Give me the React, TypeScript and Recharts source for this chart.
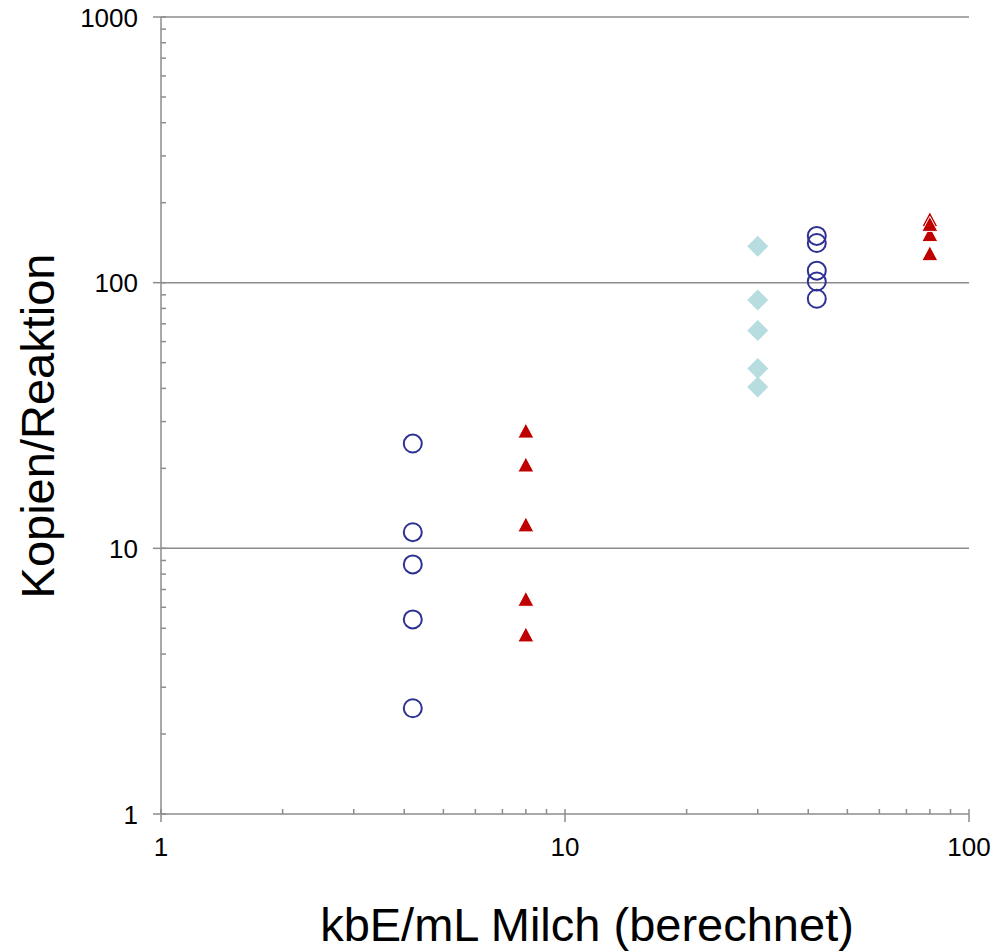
import React from 'react';
import { ScatterChart, Scatter, XAxis, YAxis, ReferenceLine } from 'recharts';

// x positions (kbE/mL) of each group and the measured copies per reaction
const circlesLowX = 4.2;
const circlesLow = [24.8, 11.5, 8.7, 5.4, 2.5];
const trianglesLowX = 8;
const trianglesLow = [27.5, 20.5, 12.2, 6.4, 4.7];
const diamondsX = 30;
const diamonds = [137, 86, 66, 47.5, 40.5];
const circlesHighX = 42;
const circlesHigh = [150, 141, 111, 101, 87];
const trianglesHighX = 80;
const trianglesHigh = [128, 172, 151, 165];

const xTicks = [1, 2, 3, 4, 5, 6, 7, 8, 9, 10, 20, 30, 40, 50, 60, 70, 80, 90, 100];
const xMajor = [1, 10, 100];
const yTicks = [1, 2, 3, 4, 5, 6, 7, 8, 9, 10, 20, 30, 40, 50, 60, 70, 80, 90, 100, 200, 300, 400, 500, 600, 700, 800, 900, 1000];
const yMajor = [1, 10, 100, 1000];
const gridLines = [10, 100, 1000];

const toPoints = (x: number, ys: number[]) => ys.map((y) => ({ x, y }));

const AXIS = '#8c8c8c';
const FONT = '"Liberation Sans", Arial, sans-serif';

const XTick = (props: any) => {
  const { x, y, payload } = props;
  const major = xMajor.includes(payload.value);
  return (
    <g>
      <line x1={x} x2={x} y1={y - 5} y2={major ? y + 8 : y} stroke={AXIS} strokeWidth={1.5} />
      {major && (
        <text x={x} y={y + 42} textAnchor="middle" fontSize={26} fill="#000" fontFamily={FONT}>
          {payload.value}
        </text>
      )}
    </g>
  );
};

const YTick = (props: any) => {
  const { x, y, payload } = props;
  const major = yMajor.includes(payload.value);
  return (
    <g>
      <line x1={major ? x - 8 : x} x2={x + 5} y1={y} y2={y} stroke={AXIS} strokeWidth={1.5} />
      {major && (
        <text x={x - 23} y={y + 9.5} textAnchor="end" fontSize={26} fill="#000" fontFamily={FONT}>
          {payload.value}
        </text>
      )}
    </g>
  );
};

const circleShape = (p: any) => (
  <circle cx={p.cx} cy={p.cy} r={9} fill="none" stroke="#2e3192" strokeWidth={2} />
);
const triangleShape = (p: any) => (
  <polygon
    points={`${p.cx},${p.cy - 8.5} ${p.cx + 8},${p.cy + 6.5} ${p.cx - 8},${p.cy + 6.5}`}
    fill="#c00000"
    stroke="#fff"
    strokeWidth={1}
  />
);
const diamondShape = (p: any) => (
  <polygon
    points={`${p.cx},${p.cy - 10.5} ${p.cx + 10.5},${p.cy} ${p.cx},${p.cy + 10.5} ${p.cx - 10.5},${p.cy}`}
    fill="#b7dde0"
  />
);

const yTitle = () => (
  <text
    x={37}
    y={426}
    transform="rotate(-90 37 426)"
    textAnchor="middle"
    dominantBaseline="central"
    fontSize={47}
    fill="#000"
    fontFamily={FONT}
  >
    Kopien/Reaktion
  </text>
);

const xTitle = () => (
  <text x={587} y={941} textAnchor="middle" fontSize={47} fill="#000" fontFamily={FONT}>
    kbE/mL Milch (berechnet)
  </text>
);

export default function App() {
  return (
    <div style={{ position: 'absolute', left: 0, top: 0, background: '#fff' }}>
      <ScatterChart width={996} height={951} margin={{ top: 17, right: 27, left: 101, bottom: 97 }}>
        <XAxis
          type="number"
          dataKey="x"
          scale="log"
          domain={[1, 100]}
          ticks={xTicks}
          interval={0}
          allowDataOverflow
          height={40}
          tickSize={0}
          tickMargin={0}
          tickLine={false}
          axisLine={{ stroke: AXIS, strokeWidth: 1.5 }}
          tick={<XTick />}
          label={{ content: xTitle }}
        />
        <YAxis
          type="number"
          dataKey="y"
          scale="log"
          domain={[1, 1000]}
          ticks={yTicks}
          interval={0}
          allowDataOverflow
          width={60}
          tickSize={0}
          tickMargin={0}
          tickLine={false}
          axisLine={{ stroke: AXIS, strokeWidth: 1.5 }}
          tick={<YTick />}
          label={{ content: yTitle }}
        />
        {gridLines.map((v) => (
          <ReferenceLine key={v} y={v} stroke={AXIS} strokeWidth={1.5} />
        ))}
        <Scatter data={toPoints(diamondsX, diamonds)} shape={diamondShape} isAnimationActive={false} />
        <Scatter data={toPoints(circlesLowX, circlesLow)} shape={circleShape} isAnimationActive={false} />
        <Scatter data={toPoints(circlesHighX, circlesHigh)} shape={circleShape} isAnimationActive={false} />
        <Scatter data={toPoints(trianglesLowX, trianglesLow)} shape={triangleShape} isAnimationActive={false} />
        <Scatter data={toPoints(trianglesHighX, trianglesHigh)} shape={triangleShape} isAnimationActive={false} />
      </ScatterChart>
    </div>
  );
}
